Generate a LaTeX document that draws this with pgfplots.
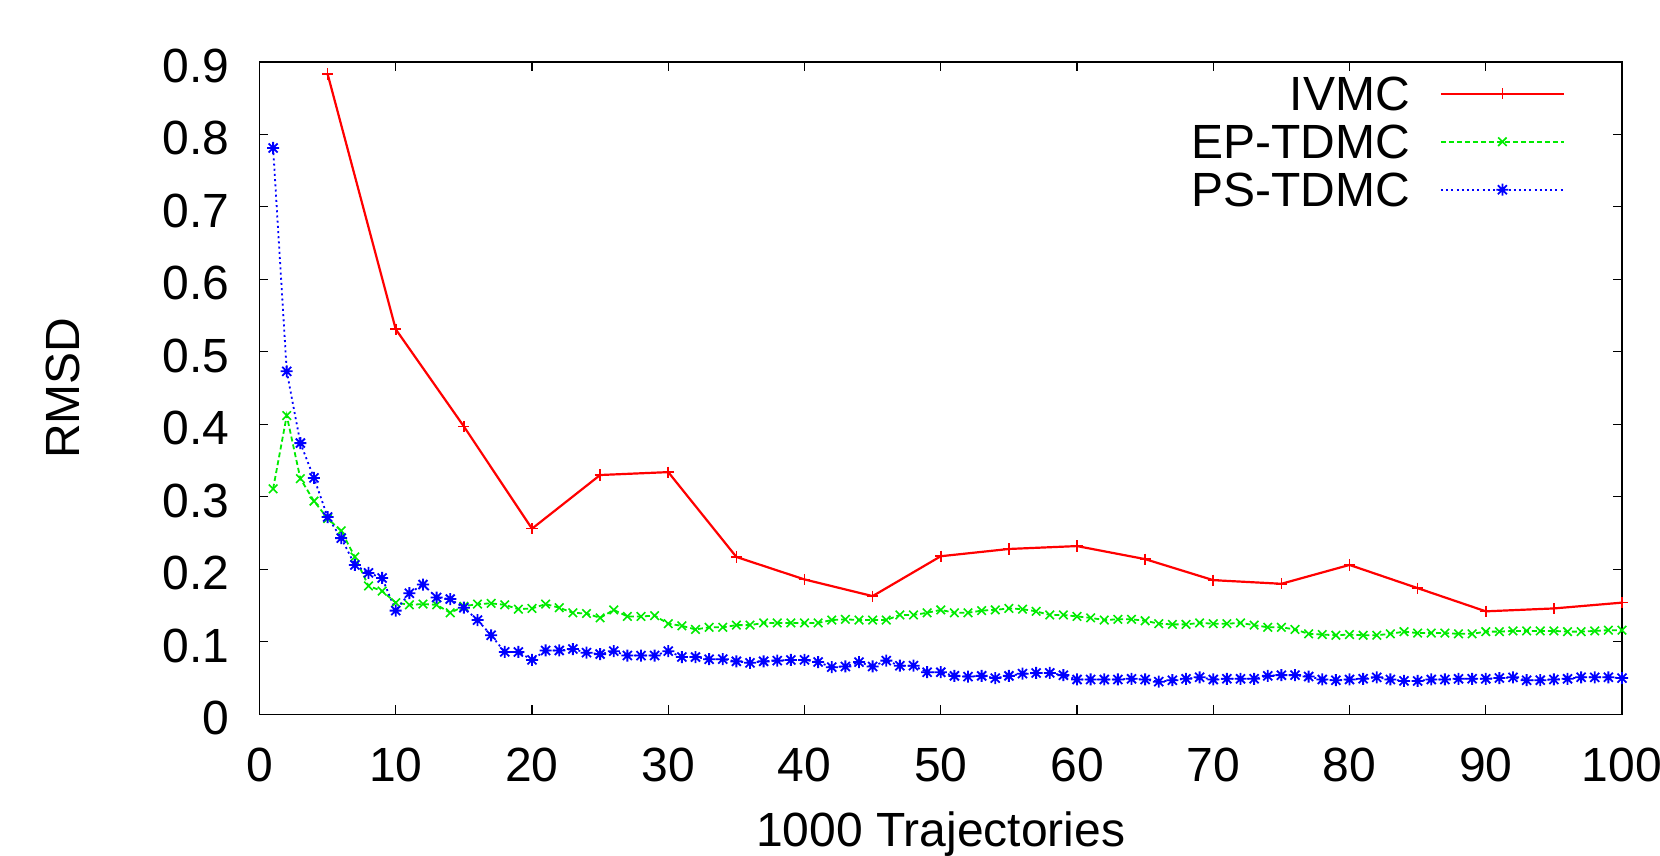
\documentclass[border=0pt]{standalone}
\usepackage{fontspec}
\setmainfont{Liberation Sans}
\usepackage{pgfplots}
\pgfplotsset{compat=1.18}
\pgfdeclareplotmark{gpstar}{%
  \pgfpathmoveto{\pgfqpoint{-\pgfplotmarksize}{0pt}}%
  \pgfpathlineto{\pgfqpoint{\pgfplotmarksize}{0pt}}%
  \pgfpathmoveto{\pgfqpoint{0pt}{-\pgfplotmarksize}}%
  \pgfpathlineto{\pgfqpoint{0pt}{\pgfplotmarksize}}%
  \pgfpathmoveto{\pgfqpoint{-0.75\pgfplotmarksize}{-0.75\pgfplotmarksize}}%
  \pgfpathlineto{\pgfqpoint{0.75\pgfplotmarksize}{0.75\pgfplotmarksize}}%
  \pgfpathmoveto{\pgfqpoint{-0.75\pgfplotmarksize}{0.75\pgfplotmarksize}}%
  \pgfpathlineto{\pgfqpoint{0.75\pgfplotmarksize}{-0.75\pgfplotmarksize}}%
  \pgfusepathqstroke}
\definecolor{gpred}{RGB}{255,0,0}
\definecolor{gpgreen}{RGB}{0,235,0}
\definecolor{gpblue}{RGB}{0,0,255}
\newcommand{\bigfont}{\fontsize{24bp}{28bp}\selectfont}
\begin{document}
\begin{tikzpicture}
\begin{axis}[
  at={(0,0)}, anchor=south west,
  scale only axis,
  width=681.25bp, height=326.3bp,
  xmin=0, xmax=100, ymin=0, ymax=0.9,
  xtick={0,10,...,100},
  ytick={0,0.1,...,0.9},
  /pgf/number format/assume math mode=true,
  yticklabel style={/pgf/number format/fixed, /pgf/number format/precision=1, anchor=east, inner sep=0pt, xshift=-15bp, yshift=-2bp, font=\bigfont},
  xticklabel style={anchor=north, inner sep=0pt, yshift=-16.5bp, font=\bigfont},
  tick align=inside,
  major tick length=4.5bp,
  tick style={black, line width=0.6bp},
  axis line style={black, line width=0.8bp},
  xlabel={1000 Trajectories},
  ylabel={RMSD},
  xlabel style={at={(axis description cs:0.5,0)}, anchor=base, inner sep=0pt, yshift=-66bp, font=\bigfont},
  ylabel style={at={(axis description cs:-0.1439,0.5)}, anchor=center, inner sep=0pt, font=\bigfont},
  clip=false,
  legend cell align=right,
  legend plot pos=right,
  legend style={at={(rel axis cs:1,1)}, anchor=north east, xshift=-28.5bp, yshift=-7.5bp,
    draw=none, fill=none, inner sep=0pt, outer sep=0pt, row sep=7bp, column sep=15bp,
    font=\bigfont, nodes={inner sep=0pt, text height=17bp, text depth=0pt}},
  legend image code/.code={\draw[mark repeat=2,mark phase=2,#1] plot coordinates {(0bp,0bp) (30.75bp,0bp) (61.5bp,0bp)};},
]
\addplot[gpred, line width=1.1bp, mark=+, mark size=2.8bp, mark options={solid, line width=0.8bp}] coordinates {
(5,0.883) (10,0.531) (15,0.397) (20,0.256) (25,0.330) (30,0.334) (35,0.217) (40,0.186) (45,0.163) (50,0.218)
(55,0.228) (60,0.232) (65,0.214) (70,0.185) (75,0.180) (80,0.206) (85,0.174) (90,0.142) (95,0.146) (100,0.154)};
\addlegendentry{IVMC}
\addplot[gpgreen, line width=0.9bp, dash pattern=on 2.5bp off 1.5bp, mark=x, mark size=3bp, mark options={solid, line width=0.8bp}] coordinates {
(1,0.311) (2,0.412) (3,0.325) (4,0.294) (5,0.270) (6,0.253) (7,0.217) (8,0.177) (9,0.170) (10,0.154)
(11,0.151) (12,0.152) (13,0.151) (14,0.140) (15,0.149) (16,0.152) (17,0.153) (18,0.151) (19,0.145) (20,0.146)
(21,0.152) (22,0.147) (23,0.140) (24,0.139) (25,0.133) (26,0.144) (27,0.135) (28,0.135) (29,0.136) (30,0.125)
(31,0.122) (32,0.117) (33,0.120) (34,0.120) (35,0.123) (36,0.123) (37,0.126) (38,0.126) (39,0.126) (40,0.126)
(41,0.126) (42,0.130) (43,0.131) (44,0.130) (45,0.130) (46,0.130) (47,0.137) (48,0.137) (49,0.140) (50,0.144)
(51,0.140) (52,0.140) (53,0.143) (54,0.144) (55,0.146) (56,0.145) (57,0.142) (58,0.137) (59,0.137) (60,0.135)
(61,0.133) (62,0.130) (63,0.131) (64,0.131) (65,0.129) (66,0.125) (67,0.124) (68,0.124) (69,0.126) (70,0.125)
(71,0.125) (72,0.126) (73,0.123) (74,0.120) (75,0.120) (76,0.117) (77,0.111) (78,0.110) (79,0.109) (80,0.110)
(81,0.109) (82,0.109) (83,0.111) (84,0.114) (85,0.112) (86,0.112) (87,0.112) (88,0.111) (89,0.111) (90,0.114)
(91,0.114) (92,0.115) (93,0.115) (94,0.115) (95,0.115) (96,0.114) (97,0.114) (98,0.115) (99,0.116) (100,0.116)};
\addlegendentry{EP-TDMC}
\addplot[gpblue, line width=0.9bp, dash pattern=on 1bp off 1.6bp, mark=gpstar, mark size=3bp, mark options={solid, line width=0.9bp}] coordinates {
(1,0.781) (2,0.473) (3,0.374) (4,0.326) (5,0.272) (6,0.243) (7,0.206) (8,0.195) (9,0.188) (10,0.143)
(11,0.167) (12,0.179) (13,0.161) (14,0.159) (15,0.147) (16,0.130) (17,0.109) (18,0.086) (19,0.086) (20,0.075)
(21,0.088) (22,0.088) (23,0.090) (24,0.085) (25,0.083) (26,0.087) (27,0.081) (28,0.081) (29,0.081) (30,0.087)
(31,0.079) (32,0.079) (33,0.076) (34,0.076) (35,0.073) (36,0.071) (37,0.073) (38,0.074) (39,0.075) (40,0.075)
(41,0.072) (42,0.065) (43,0.066) (44,0.072) (45,0.066) (46,0.074) (47,0.067) (48,0.067) (49,0.058) (50,0.058)
(51,0.053) (52,0.052) (53,0.053) (54,0.050) (55,0.053) (56,0.056) (57,0.057) (58,0.057) (59,0.054) (60,0.048)
(61,0.048) (62,0.048) (63,0.048) (64,0.049) (65,0.048) (66,0.045) (67,0.047) (68,0.049) (69,0.051) (70,0.048)
(71,0.049) (72,0.049) (73,0.049) (74,0.053) (75,0.054) (76,0.054) (77,0.052) (78,0.048) (79,0.047) (80,0.048)
(81,0.049) (82,0.051) (83,0.048) (84,0.046) (85,0.046) (86,0.048) (87,0.048) (88,0.049) (89,0.049) (90,0.049)
(91,0.050) (92,0.051) (93,0.047) (94,0.047) (95,0.048) (96,0.049) (97,0.051) (98,0.051) (99,0.051) (100,0.050)};
\addlegendentry{PS-TDMC}
\end{axis}
\pgfresetboundingbox
\useasboundingbox (-129.75bp,-70.85bp) rectangle (700.25bp,357.15bp);
\end{tikzpicture}
\end{document}
